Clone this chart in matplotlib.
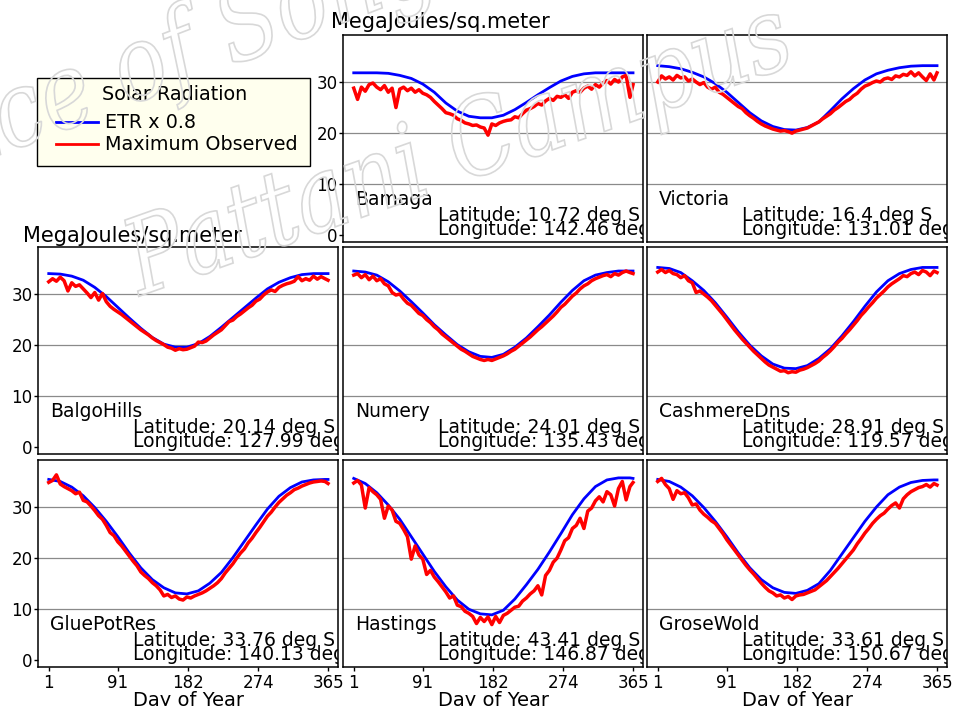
import matplotlib.pyplot as plt
from matplotlib.lines import Line2D
from matplotlib.patches import PathPatch, Rectangle
from matplotlib.text import TextPath
from matplotlib.font_manager import FontProperties
from matplotlib.transforms import Affine2D

plt.rcParams['font.family'] = 'DejaVu Sans'

# day of year for the ETR curve and for the observed maxima
etr_days = list(range(1, 362, 15)) + [365]
obs_days = list(range(1, 362, 5)) + [365]
day_ticks = [1, 91, 182, 274, 365]

stations = ['Bamaga', 'Victoria', 'BalgoHills', 'Numery', 'CashmereDns',
            'GluePotRes', 'Hastings', 'GroseWold']
latitudes = ['10.72', '16.4', '20.14', '24.01', '28.91', '33.76', '43.41', '33.61']
longitudes = ['142.46', '131.01', '127.99', '135.43', '119.57', '140.13', '146.87', '150.67']

# ETR x 0.8, MJ/m2
etr_bamaga = [31.8, 31.8, 31.8, 31.7, 31.3, 30.7, 29.6, 28.0, 25.9, 24.3, 23.3, 23.0, 23.0,
              23.5, 24.6, 26.0, 27.5, 28.9, 30.2, 31.1, 31.6, 31.8, 31.8, 31.8, 31.8, 31.8]
etr_victoria = [33.2, 33.0, 32.6, 31.9, 31.0, 29.7, 28.0, 26.0, 24.0, 22.4, 21.3, 20.7, 20.6,
                21.1, 22.2, 24.4, 26.7, 28.7, 30.4, 31.6, 32.3, 32.8, 33.1, 33.2, 33.2, 33.2]
etr_balgo = [34.0, 33.9, 33.5, 32.7, 31.3, 29.5, 27.4, 25.3, 23.3, 21.5, 20.2, 19.6, 19.6,
             20.3, 21.7, 23.5, 25.4, 27.3, 29.2, 31.0, 32.3, 33.2, 33.8, 34.0, 34.0, 34.0]
etr_numery = [34.5, 34.3, 33.7, 32.4, 30.6, 28.5, 26.3, 24.0, 22.0, 20.1, 18.7, 17.8, 17.6,
              18.2, 19.6, 21.4, 23.6, 25.9, 28.4, 30.7, 32.6, 33.7, 34.2, 34.5, 34.5, 34.5]
etr_cashmere = [35.2, 35.0, 34.2, 32.6, 30.7, 28.3, 25.5, 22.6, 20.0, 17.9, 16.3, 15.5, 15.4,
                16.0, 17.4, 19.3, 21.8, 24.6, 27.6, 30.4, 32.6, 34.0, 34.8, 35.2, 35.2, 35.2]
etr_gluepot = [35.4, 35.0, 33.9, 32.2, 29.9, 27.2, 24.2, 21.0, 18.1, 15.8, 14.2, 13.2, 13.0,
               13.6, 15.1, 17.2, 20.1, 23.3, 26.5, 29.6, 32.1, 33.8, 34.9, 35.3, 35.4, 35.4]
etr_hastings = [35.6, 34.6, 32.8, 30.4, 27.6, 24.2, 20.8, 17.4, 14.4, 11.8, 10.0, 9.1, 8.9,
                9.8, 12.0, 14.8, 17.8, 21.2, 24.8, 28.5, 31.6, 34.0, 35.3, 35.7, 35.7, 35.6]
etr_grose = [35.4, 35.0, 33.9, 32.2, 29.9, 27.2, 24.2, 21.0, 18.1, 15.8, 14.2, 13.3, 13.1,
             13.7, 15.0, 17.6, 20.8, 24.0, 27.2, 30.0, 32.4, 33.9, 34.8, 35.2, 35.3, 35.3]

# maximum observed, MJ/m2
obs_bamaga = [28.8, 26.6, 29.0, 28.2, 29.5, 29.8, 29.0, 28.5, 29.3, 28.0,
              28.8, 25.0, 28.6, 29.0, 28.3, 28.8, 28.0, 28.5, 27.8, 27.5,
              27.0, 26.2, 25.5, 24.8, 24.0, 23.8, 23.5, 22.8, 22.5, 22.0,
              21.8, 21.5, 21.6, 21.2, 21.0, 19.6, 21.8, 21.5, 22.0, 22.3,
              22.5, 22.6, 23.2, 23.0, 23.8, 24.5, 24.8, 25.2, 25.8, 25.5,
              26.3, 26.8, 26.4, 27.2, 27.0, 27.5, 26.8, 28.0, 28.3, 28.0,
              28.8, 29.2, 28.6, 29.5, 29.0, 29.8, 30.3, 29.6, 30.5, 30.0,
              31.0, 31.3, 27.0, 29.5]
obs_victoria = [30.0, 31.2, 30.6, 31.0, 30.4, 31.3, 30.8, 31.0, 30.2, 30.6,
                30.0, 29.5, 29.9, 29.0, 28.6, 29.0, 28.0, 27.6, 27.0, 26.4,
                25.8, 25.2, 24.8, 24.0, 23.4, 22.9, 22.3, 21.8, 21.4, 21.1,
                20.8, 20.6, 20.4, 20.5, 20.3, 20.0, 20.4, 20.6, 20.8, 21.0,
                21.4, 21.8, 22.2, 22.8, 23.3, 23.8, 24.5, 25.0, 25.6, 26.2,
                26.6, 27.3, 27.8, 28.6, 29.2, 29.5, 29.9, 30.2, 30.0, 30.6,
                30.8, 30.5, 31.2, 31.0, 31.5, 31.3, 32.0, 31.2, 31.8, 31.0,
                30.3, 31.6, 30.4, 31.8]
obs_balgo = [32.4, 33.0, 32.5, 33.3, 32.6, 30.6, 32.2, 31.5, 31.8, 31.0,
             30.2, 29.3, 30.3, 28.8, 30.1, 28.5, 27.6, 27.0, 26.5, 26.0,
             25.4, 24.8, 24.2, 23.6, 23.0, 22.5, 22.0, 21.4, 20.9, 20.5,
             20.1, 19.6, 19.4, 19.0, 19.3, 19.1, 19.2, 19.5, 19.8, 20.6,
             20.5, 20.8, 21.4, 22.0, 22.5, 23.0, 23.8, 24.6, 24.9, 25.6,
             26.1, 26.7, 27.3, 27.8, 28.6, 29.0, 29.8, 30.4, 30.8, 30.5,
             31.3, 31.7, 32.0, 32.2, 32.5, 33.4, 32.6, 33.0, 32.7, 33.5,
             32.9, 33.4, 33.0, 32.7]
obs_numery = [33.7, 34.0, 33.2, 33.8, 32.8, 33.5, 32.6, 33.0, 32.0, 31.6,
              30.3, 29.8, 30.0, 29.0, 28.2, 27.8, 27.0, 26.2, 25.8, 25.0,
              24.4, 23.6, 23.0, 22.2, 21.6, 21.0, 20.4, 19.8, 19.2, 18.8,
              18.3, 17.8, 17.5, 17.2, 17.0, 17.2, 17.0, 17.3, 17.6, 17.9,
              18.3, 18.8, 19.2, 19.8, 20.4, 21.0, 21.6, 22.3, 23.0, 23.6,
              24.3, 25.0, 25.7, 26.5, 27.4, 28.0, 28.8, 29.6, 30.2, 31.0,
              31.6, 32.0, 32.6, 33.0, 33.3, 33.6, 33.8, 33.4, 34.0, 33.7,
              34.2, 34.5, 34.2, 34.0]
obs_cashmere = [34.3, 34.8, 34.2, 34.6, 34.0, 33.8, 33.2, 33.6, 32.6, 32.2,
                30.3, 30.6, 30.0, 29.4, 28.7, 27.8, 26.9, 26.0, 25.0, 24.0,
                23.0, 22.1, 21.2, 20.4, 19.6, 18.8, 18.1, 17.4, 16.7, 16.1,
                15.7, 15.3, 14.9, 15.0, 14.6, 14.8, 14.7, 15.1, 15.3, 15.6,
                16.0, 16.4, 16.9, 17.6, 18.2, 18.9, 19.7, 20.6, 21.3, 22.2,
                23.0, 23.9, 24.8, 25.8, 26.6, 27.5, 28.3, 29.2, 29.9, 30.6,
                31.4, 32.0, 32.5, 33.0, 33.6, 33.4, 34.0, 34.3, 33.8, 34.6,
                34.3, 33.6, 34.5, 34.2]
obs_gluepot = [34.8, 35.2, 36.3, 34.5, 34.0, 33.6, 33.2, 32.6, 32.9, 31.3,
               31.0, 30.2, 29.3, 28.3, 27.6, 26.4, 25.0, 24.4, 23.2, 22.4,
               21.4, 20.4, 19.4, 18.5, 17.3, 16.6, 16.0, 15.2, 14.6, 13.8,
               12.6, 12.9, 12.3, 12.6, 12.0, 11.8, 12.4, 12.2, 12.6, 12.9,
               13.2, 13.6, 14.1, 14.6, 15.2, 16.0, 17.1, 18.0, 18.9, 20.0,
               21.0, 21.8, 23.0, 23.9, 25.0, 26.0, 27.1, 28.2, 29.0, 30.0,
               30.9, 31.6, 32.3, 32.8, 33.4, 33.7, 34.1, 34.4, 34.7, 34.9,
               35.0, 35.1, 35.0, 34.6]
obs_hastings = [34.7, 35.2, 34.3, 29.8, 33.8, 33.0, 32.4, 31.5, 27.8, 30.2,
                29.4, 27.2, 26.8, 25.6, 24.2, 19.8, 22.4, 20.6, 19.8, 16.8,
                17.6, 16.3, 15.4, 14.4, 13.4, 12.2, 12.6, 10.8, 10.5, 9.6,
                9.2, 8.6, 7.2, 8.4, 7.6, 8.5, 7.0, 8.6, 7.4, 8.8,
                9.2, 9.8, 10.4, 10.6, 11.6, 12.2, 13.0, 13.6, 14.6, 12.8,
                16.6, 17.6, 19.2, 20.0, 21.6, 23.4, 24.0, 25.8, 26.4, 27.8,
                25.8, 29.2, 29.8, 31.2, 32.0, 31.0, 33.0, 32.4, 30.2, 33.6,
                35.0, 31.4, 34.0, 34.8]
obs_grose = [35.0, 35.6, 34.4, 33.6, 31.5, 33.2, 32.6, 32.8, 31.8, 30.4,
             30.6, 29.4, 28.6, 28.0, 27.3, 26.8, 25.8, 24.8, 23.6, 22.6,
             21.6, 20.6, 19.6, 18.6, 17.7, 16.9, 16.0, 15.1, 14.3, 13.6,
             13.2, 12.6, 12.8, 12.2, 12.5, 11.9, 12.6, 12.8, 12.9, 13.2,
             13.5, 13.8, 14.4, 15.0, 15.6, 16.4, 17.2, 18.0, 18.9, 19.8,
             20.7, 21.6, 22.8, 23.8, 24.9, 25.8, 26.8, 27.6, 28.3, 28.8,
             29.6, 30.3, 30.8, 29.8, 31.6, 32.4, 33.0, 33.4, 33.8, 34.0,
             34.4, 33.9, 34.6, 34.3]

etr_series = [etr_bamaga, etr_victoria, etr_balgo, etr_numery, etr_cashmere,
              etr_gluepot, etr_hastings, etr_grose]
obs_series = [obs_bamaga, obs_victoria, obs_balgo, obs_numery, obs_cashmere,
              obs_gluepot, obs_hastings, obs_grose]
# grid cell (row, col) of each station; top-left cell holds the legend
cells = [(0, 1), (0, 2), (1, 0), (1, 1), (1, 2), (2, 0), (2, 1), (2, 2)]

ETR_COLOR = '#0000ff'
OBS_COLOR = '#ff0000'

W, H = 955, 706
col_x = [38, 343, 647]
row_y = [35, 247, 460]
pw, ph = 300, 207


def fx(px):
    return px / W


def fy(py):
    return 1 - py / H


fig = plt.figure(figsize=(W / 100, H / 100), dpi=100)

for name, lat, lon, etr, obs, (row, col) in zip(stations, latitudes, longitudes,
                                                etr_series, obs_series, cells):
    ax = fig.add_axes([fx(col_x[col]), fy(row_y[row] + ph), pw / W, ph / H])
    for v in (10, 20, 30):
        ax.axhline(v, color='#8a8a8a', lw=0.9, zorder=1)
    ax.plot(etr_days, etr, color=ETR_COLOR, lw=2.0, zorder=2)
    ax.plot(obs_days, obs, color=OBS_COLOR, lw=2.5, zorder=3)
    ax.set_xlim(-13, 378)
    ax.set_ylim(-1.3, 39.2)
    ax.set_xticks(day_ticks)
    ax.set_yticks([0, 10, 20, 30])

    show_y = col == 0 or (row == 0 and col == 1)
    show_x = row == 2
    ax.tick_params(axis='y', left=show_y, labelleft=show_y, direction='out',
                   length=3, width=1, pad=1, labelsize=12)
    ax.tick_params(axis='x', bottom=show_x, labelbottom=show_x, direction='out',
                   length=3, width=1, pad=2, labelsize=12)
    if show_x:
        ax.set_xlabel('Day of Year', fontsize=14, labelpad=-1)
    for s in ax.spines.values():
        s.set_linewidth(1.1)

    ax.text(0.04, 0.205, name, transform=ax.transAxes, fontsize=13.5,
            va='center', clip_on=True)
    ax.text(0.318, 0.13, 'Latitude: %s deg S' % lat, transform=ax.transAxes,
            fontsize=13.5, va='center', clip_on=True)
    ax.text(0.318, 0.06, 'Longitude: %s deg E' % lon, transform=ax.transAxes,
            fontsize=13.5, va='center', clip_on=True)

fig.text(fx(331), fy(22), 'MegaJoules/sq.meter', fontsize=15, va='center')
fig.text(fx(23), fy(236), 'MegaJoules/sq.meter', fontsize=15, va='center')

# legend box in the empty top-left cell
fig.add_artist(Rectangle((fx(37), fy(166)), fx(310) - fx(37), fy(78) - fy(166),
                         transform=fig.transFigure, facecolor='#ffffee',
                         edgecolor='black', lw=1.0))
fig.text(fx(175), fy(94), 'Solar Radiation', ha='center', va='center', fontsize=13.8)
for label, color, y in [('ETR x 0.8', ETR_COLOR, 122), ('Maximum Observed', OBS_COLOR, 144)]:
    fig.add_artist(Line2D([fx(56), fx(98)], [fy(y), fy(y)], transform=fig.transFigure,
                          color=color, lw=2.0))
    fig.text(fx(105), fy(y + 1), label, va='center', fontsize=13.8)

# faint outlined watermark across the figure
wm_font = FontProperties(family='DejaVu Serif', style='italic')
for txt, x0, y0, ang in [('Prince of Songkla University', -165, 488, 21),
                         ('Pattani Campus', 140, 410, 19.5)]:
    tp = TextPath((0, 0), txt, size=105, prop=wm_font)
    tr = Affine2D().scale(0.83, 1.0).rotate_deg(ang).translate(x0, y0)
    fig.add_artist(PathPatch(tp, transform=tr, facecolor='none',
                             edgecolor='#d8d8d8', lw=1.2, zorder=10))

fig.savefig('out.png', dpi=100)
